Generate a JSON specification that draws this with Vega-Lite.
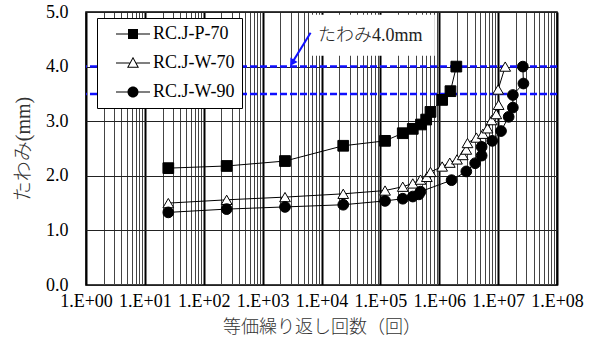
{
  "$schema": "https://vega.github.io/schema/vega-lite/v6.json",
  "autosize": {"type": "none"},
  "padding": {"left": 86, "top": 12, "right": 36, "bottom": 58},
  "width": 471,
  "height": 273,
  "background": "white",
  "config": {
    "view": {"stroke": "#000", "strokeWidth": 1.5},
    "font": "Liberation Serif, Noto Sans CJK JP",
    "axis": {"labelFont": "Liberation Serif", "labelFontSize": 18, "labelColor": "#000", "titleFont": "Liberation Serif, Noto Sans CJK JP", "titleFontWeight": 300, "titleColor": "#333"}
  },
  "resolve": {"scale": {"shape": "independent"}},
  "datasets": {
    "series": [
      {"s": "RC.J-P-70", "i": 1, "n": 25, "d": 2.14},
      {"s": "RC.J-P-70", "i": 2, "n": 245, "d": 2.18},
      {"s": "RC.J-P-70", "i": 3, "n": 2400, "d": 2.27},
      {"s": "RC.J-P-70", "i": 4, "n": 23400, "d": 2.55},
      {"s": "RC.J-P-70", "i": 5, "n": 120000, "d": 2.64},
      {"s": "RC.J-P-70", "i": 6, "n": 240000, "d": 2.78},
      {"s": "RC.J-P-70", "i": 7, "n": 355000, "d": 2.86},
      {"s": "RC.J-P-70", "i": 8, "n": 490000, "d": 2.94},
      {"s": "RC.J-P-70", "i": 9, "n": 600000, "d": 3.03},
      {"s": "RC.J-P-70", "i": 10, "n": 710000, "d": 3.17},
      {"s": "RC.J-P-70", "i": 11, "n": 1120000, "d": 3.39},
      {"s": "RC.J-P-70", "i": 12, "n": 1550000, "d": 3.55},
      {"s": "RC.J-P-70", "i": 13, "n": 1950000, "d": 4.0},
      {"s": "RC.J-W-70", "i": 1, "n": 25, "d": 1.5},
      {"s": "RC.J-W-70", "i": 2, "n": 245, "d": 1.56},
      {"s": "RC.J-W-70", "i": 3, "n": 2400, "d": 1.61},
      {"s": "RC.J-W-70", "i": 4, "n": 23400, "d": 1.67},
      {"s": "RC.J-W-70", "i": 5, "n": 120000, "d": 1.73},
      {"s": "RC.J-W-70", "i": 6, "n": 240000, "d": 1.8},
      {"s": "RC.J-W-70", "i": 7, "n": 355000, "d": 1.86},
      {"s": "RC.J-W-70", "i": 8, "n": 480000, "d": 1.93},
      {"s": "RC.J-W-70", "i": 9, "n": 616000, "d": 1.98},
      {"s": "RC.J-W-70", "i": 10, "n": 710000, "d": 2.07},
      {"s": "RC.J-W-70", "i": 11, "n": 1120000, "d": 2.17},
      {"s": "RC.J-W-70", "i": 12, "n": 1510000, "d": 2.24},
      {"s": "RC.J-W-70", "i": 13, "n": 2000000, "d": 2.3},
      {"s": "RC.J-W-70", "i": 14, "n": 2510000, "d": 2.38},
      {"s": "RC.J-W-70", "i": 15, "n": 2880000, "d": 2.48},
      {"s": "RC.J-W-70", "i": 16, "n": 3020000, "d": 2.6},
      {"s": "RC.J-W-70", "i": 17, "n": 4270000, "d": 2.7},
      {"s": "RC.J-W-70", "i": 18, "n": 5500000, "d": 2.77},
      {"s": "RC.J-W-70", "i": 19, "n": 6600000, "d": 2.87},
      {"s": "RC.J-W-70", "i": 20, "n": 7760000, "d": 3.02},
      {"s": "RC.J-W-70", "i": 21, "n": 9300000, "d": 3.13},
      {"s": "RC.J-W-70", "i": 22, "n": 10200000, "d": 3.3},
      {"s": "RC.J-W-70", "i": 23, "n": 10000000, "d": 3.58},
      {"s": "RC.J-W-70", "i": 24, "n": 13200000, "d": 4.0},
      {"s": "RC.J-W-90", "i": 1, "n": 25, "d": 1.33},
      {"s": "RC.J-W-90", "i": 2, "n": 245, "d": 1.39},
      {"s": "RC.J-W-90", "i": 3, "n": 2400, "d": 1.43},
      {"s": "RC.J-W-90", "i": 4, "n": 23400, "d": 1.47},
      {"s": "RC.J-W-90", "i": 5, "n": 120000, "d": 1.54},
      {"s": "RC.J-W-90", "i": 6, "n": 240000, "d": 1.58},
      {"s": "RC.J-W-90", "i": 7, "n": 355000, "d": 1.62},
      {"s": "RC.J-W-90", "i": 8, "n": 450000, "d": 1.66},
      {"s": "RC.J-W-90", "i": 9, "n": 480000, "d": 1.71},
      {"s": "RC.J-W-90", "i": 10, "n": 1620000, "d": 1.92},
      {"s": "RC.J-W-90", "i": 11, "n": 2880000, "d": 2.08},
      {"s": "RC.J-W-90", "i": 12, "n": 4070000, "d": 2.23},
      {"s": "RC.J-W-90", "i": 13, "n": 5250000, "d": 2.37},
      {"s": "RC.J-W-90", "i": 14, "n": 5250000, "d": 2.53},
      {"s": "RC.J-W-90", "i": 15, "n": 7940000, "d": 2.64},
      {"s": "RC.J-W-90", "i": 16, "n": 11200000, "d": 2.82},
      {"s": "RC.J-W-90", "i": 17, "n": 15100000, "d": 3.08},
      {"s": "RC.J-W-90", "i": 18, "n": 17800000, "d": 3.25},
      {"s": "RC.J-W-90", "i": 19, "n": 17800000, "d": 3.48},
      {"s": "RC.J-W-90", "i": 20, "n": 26900000, "d": 3.69},
      {"s": "RC.J-W-90", "i": 21, "n": 26300000, "d": 4.0}
    ],
    "limits": [{"d": 4.0}, {"d": 3.5}],
    "note": [{"n": 8690, "d": 4.56, "label": "たわみ4.0mm"}],
    "box": [{"n": 6340, "n2": 841000, "d": 4.2, "d2": 4.95}],
    "arrow": [{"n": 6530, "d": 4.62, "n2": 3160, "d2": 4.068}]
  },
  "layer": [
    {
      "data": {"name": "box"},
      "mark": {"type": "rect", "fill": "white", "stroke": null},
      "encoding": {
        "x": {"field": "n", "type": "quantitative", "scale": {"type": "log", "domain": [1, 100000000], "nice": false},
          "axis": {
            "values": [1,2,3,4,5,6,7,8,9,10,20,30,40,50,60,70,80,90,100,200,300,400,500,600,700,800,900,1000,2000,3000,4000,5000,6000,7000,8000,9000,10000,20000,30000,40000,50000,60000,70000,80000,90000,100000,200000,300000,400000,500000,600000,700000,800000,900000,1000000,2000000,3000000,4000000,5000000,6000000,7000000,8000000,9000000,10000000,20000000,30000000,40000000,50000000,60000000,70000000,80000000,90000000,100000000],
            "labelExpr": "abs(log(datum.value)/LN10 - round(log(datum.value)/LN10)) < 0.001 ? '1.E+0' + round(log(datum.value)/LN10) : ''",
            "labelOverlap": false,
            "labelFlush": false,
            "labelPadding": 7,
            "ticks": false,
            "domain": false,
            "grid": true,
            "gridColor": {"condition": {"test": "abs(log(datum.value)/LN10 - round(log(datum.value)/LN10)) < 0.001", "value": "#000"}, "value": "#444"},
            "gridWidth": {"condition": {"test": "abs(log(datum.value)/LN10 - round(log(datum.value)/LN10)) < 0.001", "value": 2}, "value": 1},
            "gridOpacity": 1,
            "title": "等価繰り返し回数（回）",
            "titleFontSize": 18,
            "titlePadding": 8
          }},
        "x2": {"field": "n2"},
        "y": {"field": "d", "type": "quantitative", "scale": {"domain": [0, 5], "nice": false},
          "axis": {"values": [0, 1, 2, 3, 4, 5], "format": ".1f", "ticks": false, "domain": false, "labelPadding": 18, "grid": true, "gridColor": "#222", "gridWidth": 1, "gridOpacity": 1, "title": "たわみ(mm)", "titleFontSize": 20, "titlePadding": 12}},
        "y2": {"field": "d2"}
      }
    },
    {
      "data": {"name": "limits"},
      "mark": {"type": "rule", "color": "#1010ff", "strokeWidth": 2.5, "strokeDash": [7, 3]},
      "encoding": {"y": {"field": "d", "type": "quantitative"}}
    },
    {
      "data": {"name": "series"},
      "mark": {"type": "line", "color": "#000", "strokeWidth": 1},
      "encoding": {
        "x": {"field": "n", "type": "quantitative"},
        "y": {"field": "d", "type": "quantitative"},
        "detail": {"field": "s"},
        "order": {"field": "i"}
      }
    },
    {
      "data": {"name": "series"},
      "mark": {"type": "point", "filled": false, "stroke": "#000", "strokeWidth": 1, "size": 115, "opacity": 1},
      "encoding": {
        "x": {"field": "n", "type": "quantitative"},
        "y": {"field": "d", "type": "quantitative"},
        "shape": {"field": "s", "type": "nominal", "scale": {"domain": ["RC.J-P-70", "RC.J-W-70", "RC.J-W-90"], "range": ["square", "triangle-up", "circle"]}, "legend": null},
        "fill": {"field": "s", "type": "nominal", "scale": {"domain": ["RC.J-P-70", "RC.J-W-70", "RC.J-W-90"], "range": ["#000", "#fff", "#000"]}, "legend": null}
      }
    },
    {
      "data": {"name": "series"},
      "transform": [{"filter": "false"}],
      "mark": {"type": "point", "filled": false, "stroke": "#000", "strokeWidth": 1.1, "opacity": 1},
      "encoding": {
        "shape": {"field": "s", "type": "nominal",
          "scale": {"domain": ["RC.J-P-70", "RC.J-W-70", "RC.J-W-90"],
            "range": [
              "M-3.4,-0.11H-1V0.11H-3.4ZM1,-0.11H3.4V0.11H1ZM-1,-1H1V1H-1Z",
              "M-3.4,-0.11H-0.68V0.11H-3.4ZM0.68,-0.11H3.4V0.11H0.68ZM0,-1.25L1.2,0.95H-1.2ZM0,-0.832L-0.863,0.75H0.863Z",
              "M-3.4,-0.11H-1.05V0.11H-3.4ZM1.05,-0.11H3.4V0.11H1.05ZM1.1,0A1.1,1.1,0,1,1,-1.1,0A1.1,1.1,0,1,1,1.1,0Z"
            ]},
          "legend": {
            "title": null,
            "orient": "none",
            "legendX": 11,
            "legendY": 6,
            "padding": 7,
            "strokeColor": "#000",
            "fillColor": "#fff",
            "labelFont": "Liberation Serif",
            "labelFontSize": 18,
            "labelColor": "#000",
            "labelExpr": "datum.label + '\u00a0\u00a0\u00a0'",
            "symbolSize": 100,
            "symbolOffset": 20,
            "symbolStrokeColor": "#000",
            "symbolStrokeWidth": 1.1,
            "symbolOpacity": 1,
            "labelOffset": 11,
            "rowPadding": 11
          }},
        "fill": {"field": "s", "type": "nominal", "scale": {"domain": ["RC.J-P-70", "RC.J-W-70", "RC.J-W-90"], "range": ["#000", "#fff", "#000"]}, "legend": null}
      }
    },
    {
      "data": {"name": "note"},
      "mark": {"type": "text", "align": "left", "baseline": "middle", "fontSize": 18, "font": "Liberation Serif, Noto Sans CJK JP", "fontWeight": 300, "color": "#222"},
      "encoding": {
        "x": {"field": "n", "type": "quantitative"},
        "y": {"field": "d", "type": "quantitative"},
        "text": {"field": "label"}
      }
    },
    {
      "data": {"name": "arrow"},
      "mark": {"type": "rule", "color": "#1010ff", "strokeWidth": 2},
      "encoding": {
        "x": {"field": "n", "type": "quantitative"},
        "y": {"field": "d", "type": "quantitative"},
        "x2": {"field": "n2"},
        "y2": {"field": "d2"}
      }
    },
    {
      "data": {"name": "arrow"},
      "mark": {"type": "point", "shape": "triangle-down", "filled": true, "color": "#1010ff", "size": 70, "angle": 32, "opacity": 1},
      "encoding": {
        "x": {"field": "n2", "type": "quantitative"},
        "y": {"field": "d2", "type": "quantitative"}
      }
    }
  ]
}
